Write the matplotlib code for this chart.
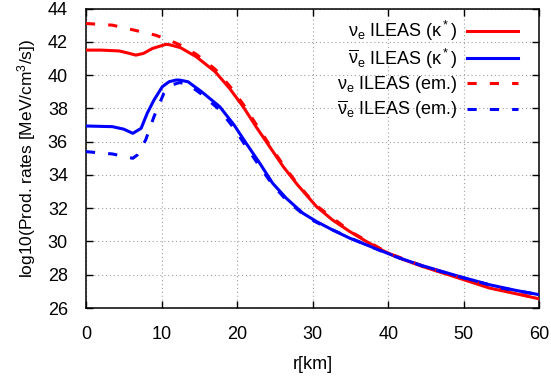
import matplotlib
matplotlib.use('Agg')
import matplotlib.pyplot as plt

plt.rcParams['font.family'] = ['Liberation Sans', 'DejaVu Sans']
plt.rcParams['mathtext.fontset'] = 'custom'
plt.rcParams['mathtext.rm'] = 'Liberation Sans'
plt.rcParams['mathtext.it'] = 'Liberation Sans'
plt.rcParams['mathtext.bf'] = 'Liberation Sans:bold'

# nu_e, ILEAS (kappa*)
r_nue_ka = [0, 2, 4.4, 5.5, 6.6, 7.6, 8.8, 10.6, 11.1, 12.5, 14.6, 17.1, 19.0, 20.8,
            22.5, 24.3, 26.1, 28.0, 30.5, 32.6, 34.9, 37.1, 39.3, 41.5, 44.5, 49.0,
            53.4, 57.0, 60.0]
y_nue_ka = [41.5, 41.5, 41.45, 41.33, 41.2, 41.3, 41.6, 41.85, 41.82, 41.65, 41.1,
            40.2, 39.2, 38.1, 36.9, 35.7, 34.5, 33.4, 32.1, 31.3, 30.6, 30.0, 29.45,
            29.0, 28.5, 27.85, 27.2, 26.85, 26.55]

# anti nu_e, ILEAS (kappa*)
r_anue_ka = [0, 3.5, 5, 6.2, 7.3, 8.1, 9.0, 10.1, 11.0, 11.9, 12.4, 13.5, 15.3, 17.7,
             19.6, 21.2, 23.0, 24.7, 26.5, 28.7, 30.5, 32.6, 34.9, 37.1, 39.3, 41.5,
             44.5, 49.0, 53.4, 57.0, 60.0]
y_anue_ka = [36.94, 36.9, 36.75, 36.5, 36.8, 37.7, 38.5, 39.3, 39.6, 39.7, 39.7, 39.6,
             39.0, 38.1, 37.0, 35.9, 34.7, 33.5, 32.6, 31.7, 31.2, 30.7, 30.2, 29.8,
             29.4, 29.0, 28.55, 27.95, 27.4, 27.05, 26.8]

# nu_e, ILEAS (em.)
r_nue_em = [0, 3.5, 6.4, 9.2, 11.0, 12.5, 14.6, 17.1, 19.0, 20.8, 22.5, 24.3, 26.1,
            28.0, 30.5, 35, 40, 45, 50, 55, 60]
y_nue_em = [43.1, 43.0, 42.7, 42.4, 42.1, 41.8, 41.25, 40.35, 39.35, 38.25, 37.05,
            35.8, 34.6, 33.45, 32.15, 30.6, 29.3, 28.45, 27.75, 27.1, 26.55]

# anti nu_e, ILEAS (em.)
r_anue_em = [0, 3.5, 6.2, 6.8, 7.9, 9.0, 10.3, 11.3, 12.4, 13.5, 15.3, 17.7, 19.6,
             21.2, 23.0, 24.7, 26.5, 28.7, 30.5, 35, 40, 45, 50, 55, 60]
y_anue_em = [35.4, 35.26, 35.0, 35.2, 36.1, 37.5, 38.9, 39.4, 39.55, 39.45, 38.85,
             37.9, 36.8, 35.7, 34.5, 33.4, 32.5, 31.65, 31.15, 30.2, 29.25, 28.45,
             27.8, 27.2, 26.8]

labels = [r'$\mathrm{\nu}_\mathrm{e}$ ILEAS ($\mathrm{\kappa}^*$)',
          r'$\overline{\mathrm{\nu}}_\mathrm{e}$ ILEAS ($\mathrm{\kappa}^*$)',
          r'$\mathrm{\nu}_\mathrm{e}$ ILEAS (em.)',
          r'$\overline{\mathrm{\nu}}_\mathrm{e}$ ILEAS (em.)']

fig = plt.figure(figsize=(5.51, 3.87), dpi=100)
ax = fig.add_axes([0.156, 0.204, 0.823, 0.774])

lw = 2.2
dash = (3.0, 4.3)
ax.plot(r_nue_ka, y_nue_ka, color='#ff0000', lw=lw, label=labels[0], zorder=3)
ax.plot(r_anue_ka, y_anue_ka, color='#0000ff', lw=lw, label=labels[1], zorder=3)
ax.plot(r_nue_em, y_nue_em, color='#ff0000', lw=lw, dashes=dash, label=labels[2], zorder=3)
ax.plot(r_anue_em, y_anue_em, color='#0000ff', lw=lw, dashes=dash, label=labels[3], zorder=3)

ax.set_xlim(0, 60)
ax.set_ylim(26, 44)
ax.set_xticks(range(0, 61, 10))
ax.set_yticks(range(26, 45, 2))
ax.tick_params(direction='in', top=True, right=True, length=5, width=1,
               labelsize=13, pad=13)
ax.grid(True, color='#a0a0a0', linestyle=(0, (1, 2.5)), linewidth=0.8)
for s in ax.spines.values():
    s.set_linewidth(1.1)

ax.set_xlabel('r[km]', fontsize=13, labelpad=9)
ax.set_ylabel(r'log10(Prod. rates [MeV/cm$^3$/s])', fontsize=12.5, labelpad=7)

leg = ax.legend(loc='upper right', bbox_to_anchor=(0.953, 0.965), frameon=False,
                markerfirst=False, fontsize=13, handlelength=2.85,
                handletextpad=0.5, labelspacing=0.2, borderpad=0, borderaxespad=0)

fig.savefig('out.png', dpi=100)
